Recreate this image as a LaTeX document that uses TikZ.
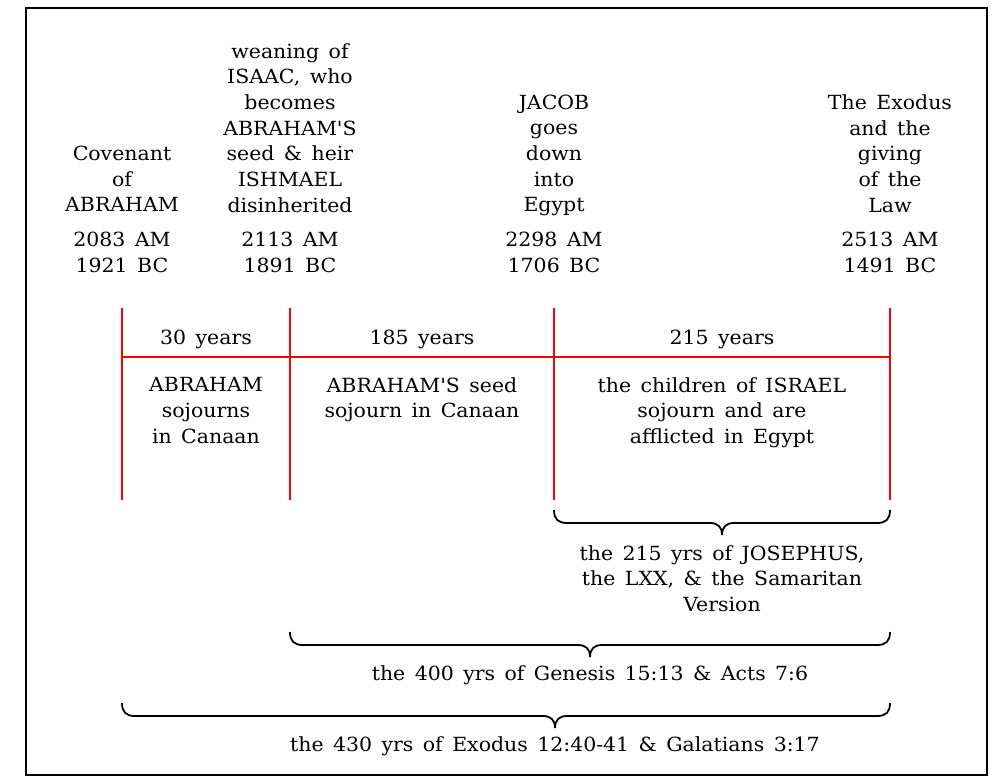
\documentclass[tikz,border=0pt]{standalone}
\usepackage{fontspec}
\setmainfont{DejaVu Serif}[Ligatures=TeXOff, FakeStretch=1.05, WordSpace=1.45]
\newcommand\tlbrace[4]{% x1, x2, xtip, ytop
  \draw[bracepath] (#1,#4) .. controls (#1,{#4+9}) and ({#1+4},{#4+13}) .. ({#1+13},{#4+13})
    -- ({#3-12},{#4+13}) .. controls ({#3-4},{#4+13}) and (#3,{#4+17}) .. (#3,{#4+25})
    .. controls (#3,{#4+17}) and ({#3+4},{#4+13}) .. ({#3+12},{#4+13})
    -- ({#2-13},{#4+13}) .. controls ({#2-4},{#4+13}) and (#2,{#4+9}) .. (#2,#4);}
\begin{document}
\begin{tikzpicture}[x=1pt,y=-1pt,
  every node/.style={font=\fontsize{19.5}{25.7}\selectfont, inner sep=0pt, align=center},
  lbl/.style={anchor=north, execute at begin node={\vphantom{Ald}}},
  redline/.style={draw=red, line width=1.8pt},
  bracepath/.style={draw=black, line width=1.8pt}]
\useasboundingbox (0,0) rectangle (999,782);
\draw[line width=2pt] (26,8) rectangle (987,775);

% event labels
\node[lbl] (ev1) at (122,145.8) {Covenant\\of\\ABRAHAM};
\node[lbl] (ev2) at (290,43) {weaning of\\ISAAC, who\\becomes\\ABRAHAM'S\\seed \& heir\\ISHMAEL\\disinherited};
\node[lbl] (ev3) at (554,94.4) {JACOB\\goes\\down\\into\\Egypt};
\node[lbl] (ev4) at (890,94.4) {The Exodus\\and the\\giving\\of the\\Law};

% dates
\node[lbl] (dt1) at (122,232.2) {2083 AM\\1921 BC};
\node[lbl] (dt2) at (290,232.2) {2113 AM\\1891 BC};
\node[lbl] (dt3) at (554,232.2) {2298 AM\\1706 BC};
\node[lbl] (dt4) at (890,232.2) {2513 AM\\1491 BC};

% red grid
\coordinate (t1) at (122,308); \coordinate (b1) at (122,500);
\coordinate (t2) at (290,308); \coordinate (b2) at (290,500);
\coordinate (t3) at (554,308); \coordinate (b3) at (554,500);
\coordinate (t4) at (890,308); \coordinate (b4) at (890,500);
\coordinate (h1) at (122,357); \coordinate (h4) at (890,357);
\draw[redline] (t1) -- (b1);
\draw[redline] (t2) -- (b2);
\draw[redline] (t3) -- (b3);
\draw[redline] (t4) -- (b4);
\draw[redline] (h1) -- (h4);

% durations
\node[lbl] (y1) at (206,329.2) {30 years};
\node[lbl] (y2) at (422,329.2) {185 years};
\node[lbl] (y3) at (722,329.2) {215 years};

% sojourns
\node[lbl] (s1) at (206,377.2) {ABRAHAM\\sojourns\\in Canaan};
\node[lbl] (s2) at (422,377.2) {ABRAHAM'S seed\\sojourn in Canaan};
\node[lbl] (s3) at (722,377.2) {the children of ISRAEL\\sojourn and are\\afflicted in Egypt};

% braces
\tlbrace{554}{890}{722}{510}
\node[lbl] (br1) at (722,545.2) {the 215 yrs of JOSEPHUS,\\the LXX, \& the Samaritan\\Version};
\tlbrace{290}{890}{590}{632}
\node[lbl] (br2) at (590,665.2) {the 400 yrs of Genesis 15:13 \& Acts 7:6};
\tlbrace{122}{890}{555}{703}
\node[lbl] (br3) at (555,736.2) {the 430 yrs of Exodus 12:40-41 \& Galatians 3:17};
\end{tikzpicture}
\end{document}
